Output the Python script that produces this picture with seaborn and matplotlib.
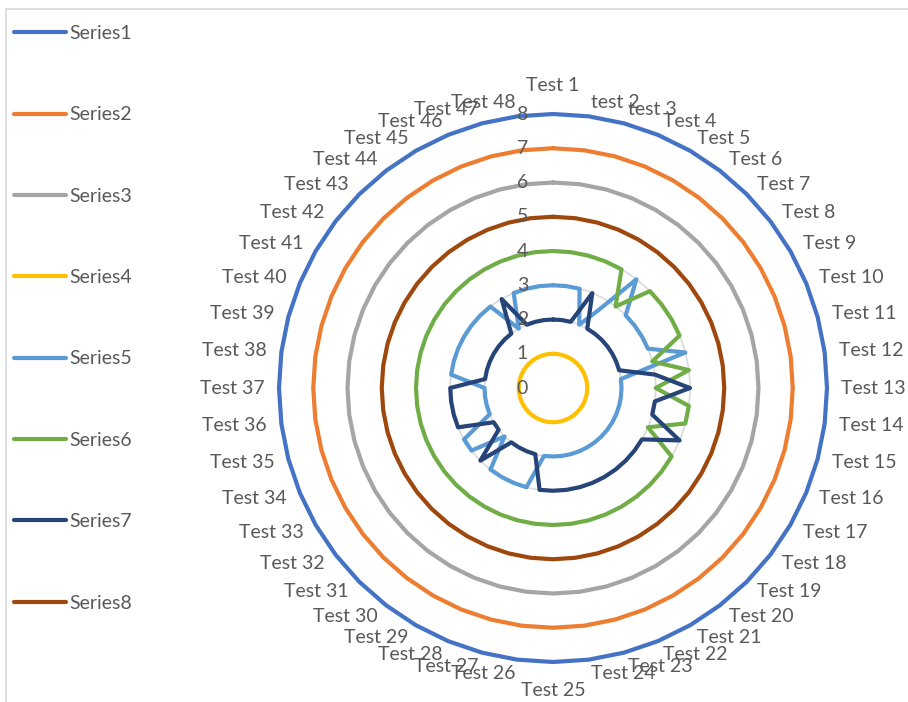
import numpy as np
import pandas as pd
import matplotlib
matplotlib.use("Agg")
import matplotlib.pyplot as plt
import seaborn as sns
from matplotlib.patches import Rectangle

# ---- data -------------------------------------------------------------
categories = ["Test 1", "test 2", "test 3"] + [f"Test {i}" for i in range(4, 49)]

series1 = [8] * 48
series2 = [7] * 48
series3 = [6] * 48
series4 = [1] * 48
series5 = [3, 3, 3, 2, 2.6, 4, 3, 3, 3, 3, 4, 2,
           2, 2, 2, 2, 2, 2, 2, 2, 2, 2, 2, 2,
           2, 2, 3, 3, 3, 3, 2, 3, 3, 2, 2, 2,
           2, 3, 3, 3, 3, 3, 3, 3, 2, 3, 3, 3]
series6 = [4, 4, 4, 4, 4, 3, 4, 4, 4, 4, 3, 4,
           3, 4, 4, 3, 4, 4, 4, 4, 4, 4, 4, 4,
           4, 4, 4, 4, 4, 4, 4, 4, 4, 4, 4, 4,
           4, 4, 4, 4, 4, 4, 4, 4, 4, 4, 4, 4]
series7 = [2, 2, 2, 3, 2, 2, 2, 2, 2, 2, 2, 3,
           4, 3, 3, 4, 3, 3, 3, 3, 3, 3, 3, 3,
           3, 3, 2, 2, 2, 2, 3, 2, 2, 3, 3, 3,
           3, 2, 2, 2, 2, 2, 2, 2, 3, 2, 2, 2]
series8 = [5] * 48

series_names = ["Series1", "Series2", "Series3", "Series4",
                "Series5", "Series6", "Series7", "Series8"]
series_values = [series1, series2, series3, series4,
                 series5, series6, series7, series8]
colors = ["#4472C4", "#ED7D31", "#A5A5A5", "#FFC000",
          "#5B9BD5", "#70AD47", "#264478", "#9E480E"]
radial_ticks = list(range(0, 9))

# ---- long-form table, each polygon closed back on its first point ------
n = len(categories)
theta = np.linspace(0, 2 * np.pi, n, endpoint=False)
rows = []
for name, vals in zip(series_names, series_values):
    for k in range(n + 1):
        rows.append({"series": name, "theta": (theta[k % n] if k < n else 2 * np.pi),
                     "value": vals[k % n]})
df = pd.DataFrame(rows)

# ---- style ------------------------------------------------------------
sns.set_theme(style="white")
plt.rcParams["font.family"] = ["Lato", "DejaVu Sans"]
text_color = "#595959"
fs = 14

W, H, DPI = 908, 702, 100
fig = plt.figure(figsize=(W / DPI, H / DPI), dpi=DPI, facecolor="white")

cx, cy, rad = 553, 388, 274
ax = fig.add_axes([(cx - rad) / W, (H - cy - rad) / H, 2 * rad / W, 2 * rad / H],
                  projection="polar")
ax.set_theta_zero_location("N")
ax.set_theta_direction(-1)
ax.set_facecolor("none")

sns.lineplot(data=df, x="theta", y="value", hue="series", palette=colors,
             sort=False, estimator=None, units="series", linewidth=3,
             ax=ax, legend=True)
for line in ax.get_lines():
    line.set_solid_joinstyle("round")
    line.set_clip_on(False)

ax.set_ylim(0, 8)
ax.set_xticks([])
ax.set_yticks(radial_ticks[1:])
ax.set_yticklabels([])
ax.yaxis.grid(True, color="#d9d9d9", linewidth=1.2)
ax.spines["polar"].set_visible(False)
ax.set_xlabel("")
ax.set_ylabel("")

# radial value labels, stacked just left of the vertical axis
for v in radial_ticks:
    ax.annotate(str(v), xy=(0, v), xytext=(-25, 0), textcoords="offset pixels",
                ha="right", va="center", fontsize=fs, color=text_color,
                annotation_clip=False)

# category labels just outside the outer ring
label_r = 8.42
for th, lab in zip(theta, categories):
    s, c = np.sin(th), np.cos(th)
    r_lab = label_r
    if abs(s) < 1e-6:
        ha = "center"
        va = "bottom" if c > 0 else "top"
        r_lab = label_r + 0.15
    else:
        ha = "left" if s > 0 else "right"
        va = "center"
    ax.text(th, r_lab, lab, ha=ha, va=va, fontsize=fs, color=text_color,
            clip_on=False)

# legend down the left edge
handles, labels = ax.get_legend_handles_labels()
ax.get_legend().remove()
leg = fig.legend(handles, labels, loc="upper left",
                 bbox_to_anchor=(14 / W, 1 - 25 / H), frameon=False,
                 borderpad=0, borderaxespad=0, handlelength=2.65,
                 handletextpad=0.2, labelspacing=3.31, fontsize=fs)
for txt in leg.get_texts():
    txt.set_color(text_color)
for lh in leg.get_lines():
    lh.set_linewidth(3)
    lh.set_solid_capstyle("round")

# chart-area border
fig.add_artist(Rectangle((6 / W, -0.05), 1.0, 1 - 9 / H + 0.05,
                         transform=fig.transFigure, fill=False,
                         edgecolor="#d9d9d9", linewidth=1.2))

fig.savefig("out.png", dpi=DPI, facecolor="white")
